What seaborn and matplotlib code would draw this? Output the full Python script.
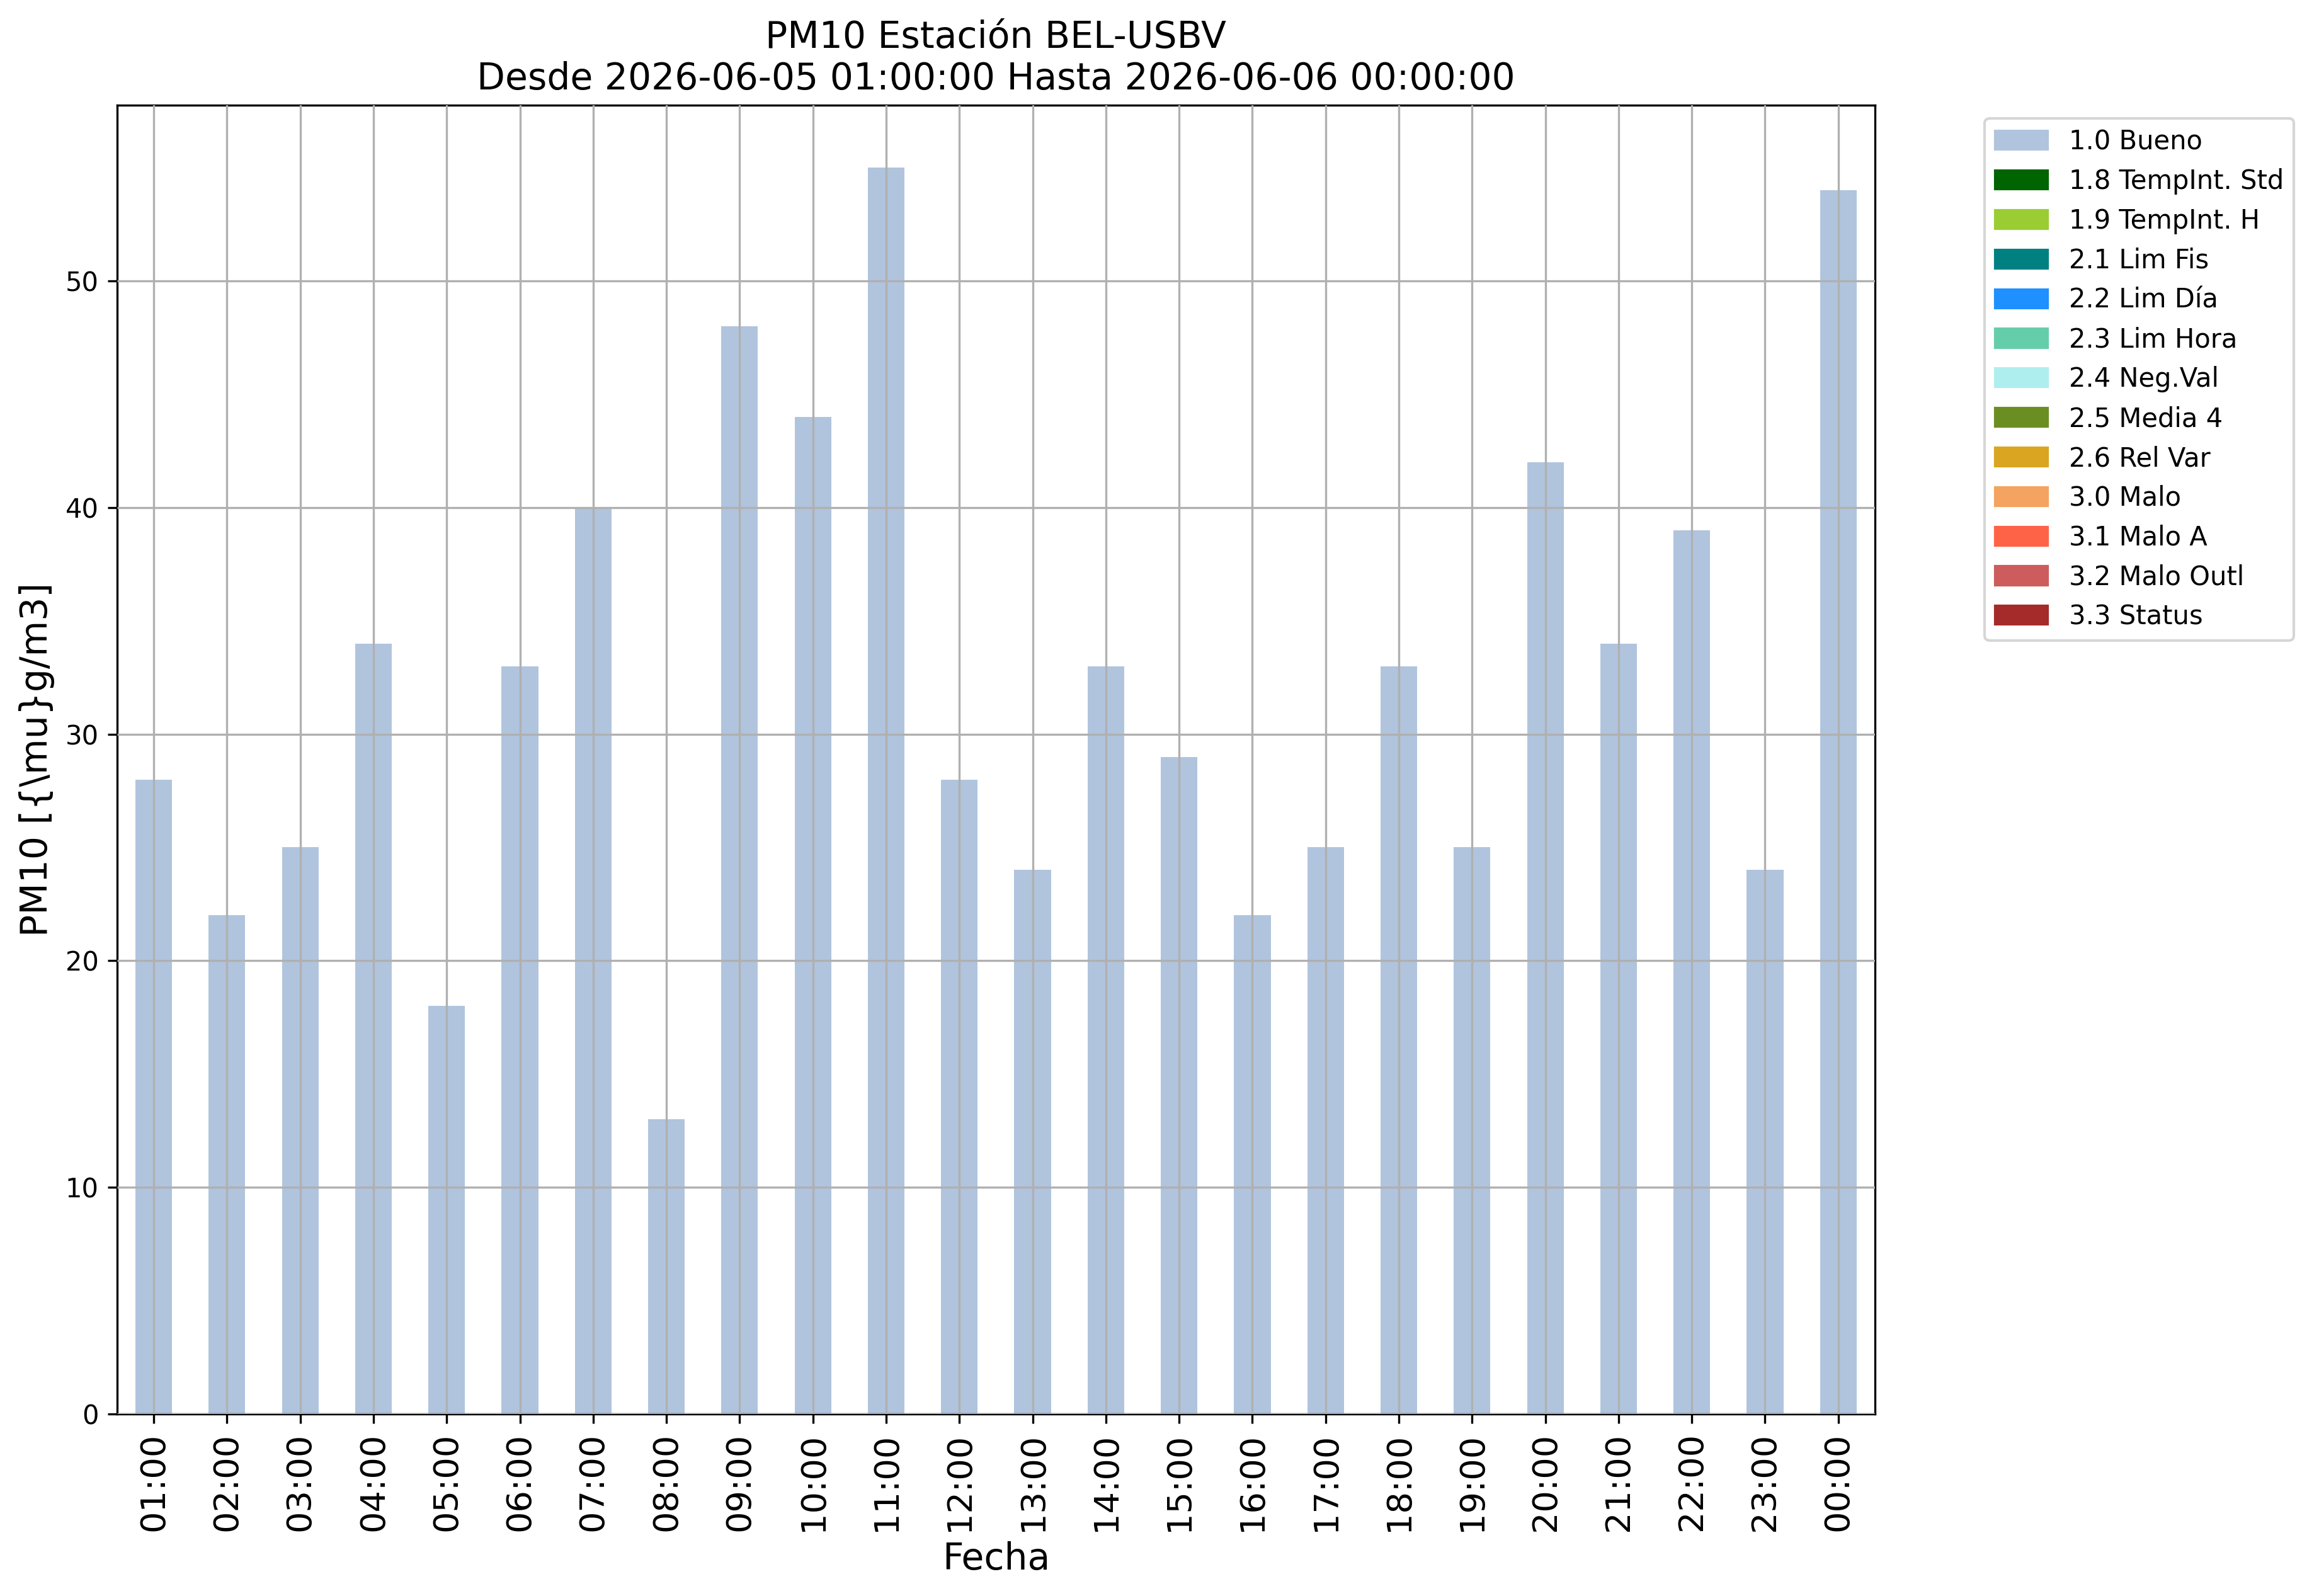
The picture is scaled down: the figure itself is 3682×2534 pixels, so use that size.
import matplotlib
matplotlib.use("Agg")
import matplotlib.pyplot as plt
import matplotlib.patches as mpatches
import seaborn as sns
import pandas as pd

# hourly PM10 values, all flagged as "1.0 Bueno"
hours = ["01:00", "02:00", "03:00", "04:00", "05:00", "06:00", "07:00", "08:00",
         "09:00", "10:00", "11:00", "12:00", "13:00", "14:00", "15:00", "16:00",
         "17:00", "18:00", "19:00", "20:00", "21:00", "22:00", "23:00", "00:00"]
pm10 = [28, 22, 25, 34, 18, 33, 40, 13, 48, 44, 55, 28,
        24, 33, 29, 22, 25, 33, 25, 42, 34, 39, 24, 54]

# quality flags and their colours
flags = ["1.0 Bueno", "1.8 TempInt. Std", "1.9 TempInt. H", "2.1 Lim Fis",
         "2.2 Lim Día", "2.3 Lim Hora", "2.4 Neg.Val", "2.5 Media 4",
         "2.6 Rel Var", "3.0 Malo", "3.1 Malo A", "3.2 Malo Outl", "3.3 Status"]
flag_colors = ["lightsteelblue", "darkgreen", "yellowgreen", "teal",
               "dodgerblue", "mediumaquamarine", "paleturquoise", "olivedrab",
               "goldenrod", "sandybrown", "tomato", "indianred", "brown"]

df = pd.DataFrame({"Fecha": hours, "PM10": pm10})

fig, ax = plt.subplots(figsize=(3682 / 300, 2534 / 300), dpi=300)
fig.subplots_adjust(left=0.0505, right=0.8085, top=0.9341, bottom=0.114)

sns.barplot(data=df, x="Fecha", y="PM10", color=flag_colors[0], width=0.5,
            saturation=1, ax=ax, zorder=1)

ax.set_xlim(-0.5, len(hours) - 0.5)
ax.set_ylim(0, 57.75)
ax.grid(True, color="#b0b0b0", linewidth=0.8)
ax.set_axisbelow(False)

ax.tick_params(axis="x", labelsize=13, labelrotation=90)
ax.tick_params(axis="y", labelsize=10)
ax.set_xlabel("Fecha", fontsize=14)
ax.set_ylabel("PM10 [{\\mu}g/m3]", fontsize=14)
ax.set_title("PM10 Estación BEL-USBV\nDesde 2026-06-05 01:00:00 Hasta 2026-06-06 00:00:00",
             fontsize=14)

handles = [mpatches.Patch(color=c, label=l) for c, l in zip(flag_colors, flags)]
ax.legend(handles=handles, bbox_to_anchor=(1.055, 1), loc="upper left", fontsize=10)

fig.savefig("out.png", dpi=300)
